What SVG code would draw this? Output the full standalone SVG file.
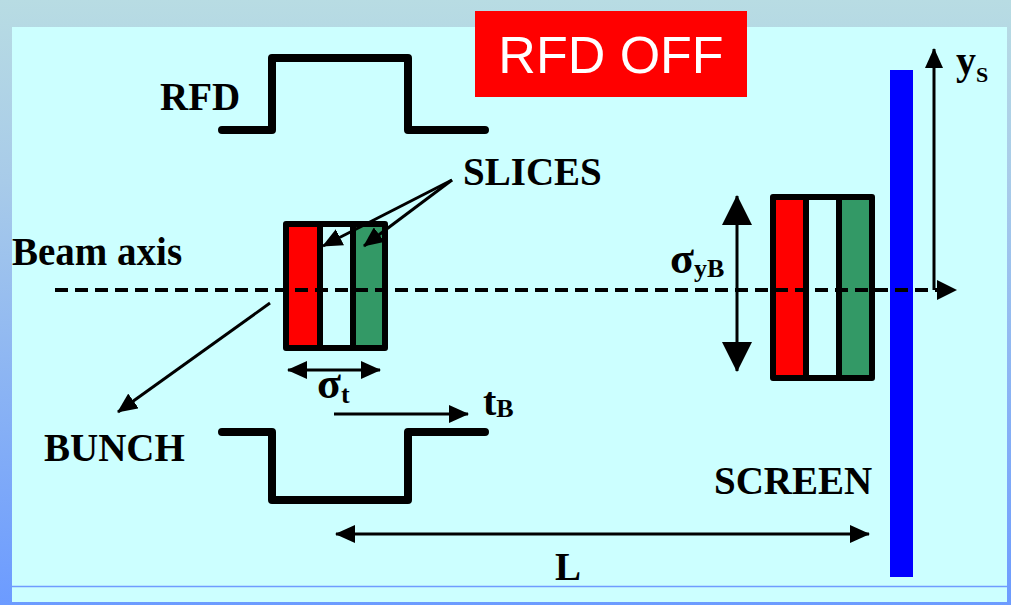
<svg xmlns="http://www.w3.org/2000/svg" width="1011" height="605" viewBox="0 0 1011 605">
<defs>
<linearGradient id="frame" x1="0" y1="0" x2="0" y2="1">
<stop offset="0" stop-color="#b8dce3"/>
<stop offset="0.3" stop-color="#a8cbe9"/>
<stop offset="1" stop-color="#6c9bff"/>
</linearGradient>
<marker id="ah" viewBox="0 0 20 18" refX="19" refY="9" markerWidth="20" markerHeight="18" markerUnits="userSpaceOnUse" orient="auto-start-reverse">
<path d="M0,0 L20,9 L0,18 z" fill="#000"/>
</marker>
<marker id="ahBig" viewBox="0 0 30 30" refX="29" refY="15" markerWidth="30" markerHeight="30" markerUnits="userSpaceOnUse" orient="auto-start-reverse">
<path d="M0,0 L30,15 L0,30 z" fill="#000"/>
</marker>
</defs>
<style>
.lbl{font-family:"Liberation Serif","Times New Roman",serif;font-weight:bold;font-size:39px;fill:#000}
.sub{font-family:"Liberation Serif","Times New Roman",serif;font-weight:bold;fill:#000}
.pulse{fill:none;stroke:#000;stroke-width:8;stroke-linejoin:round;stroke-linecap:round}
.slice{stroke:#000;stroke-width:6;stroke-linejoin:round}
.arr{stroke:#000;stroke-width:3;fill:none}
</style>
<rect x="0" y="0" width="1011" height="605" fill="url(#frame)"/>
<rect x="12" y="27" width="995" height="575" fill="#ccffff"/>
<line x1="12" y1="586.5" x2="1007" y2="586.5" stroke="#6f9cff" stroke-width="1.5"/>

<g id="rfd-off">
<rect x="475" y="11" width="272" height="86" fill="#ff0000"/>
<text x="611" y="73" text-anchor="middle" font-family="Liberation Sans, Arial, sans-serif" font-size="52" fill="#ffffff">RFD OFF</text>
</g>

<g id="rfd-pulse">
<path class="pulse" d="M222,130 H272 V58 H408 V130 H485"/>
<text class="lbl" x="160" y="110">RFD</text>
</g>

<g id="bunch-pulse">
<path class="pulse" d="M222,432 H272 V500 H408 V432 H485"/>
</g>

<g id="screen">
<rect x="890" y="70" width="23" height="507" fill="#0000ff"/>
<text class="lbl" x="714" y="494">SCREEN</text>
</g>

<g id="bunch-left">
<rect class="slice" x="286" y="224" width="34" height="124" fill="#ff0000"/>
<rect class="slice" x="320" y="224" width="33" height="124" fill="#ccffff"/>
<rect class="slice" x="353" y="224" width="32" height="124" fill="#339966"/>
</g>

<g id="bunch-right">
<rect class="slice" x="773" y="197" width="33" height="181" fill="#ff0000"/>
<rect class="slice" x="806" y="197" width="33" height="181" fill="#ccffff"/>
<rect class="slice" x="839" y="197" width="33" height="181" fill="#339966"/>
</g>

<g id="labels">
<text class="lbl" x="12" y="265">Beam axis</text>
<text class="lbl" x="463" y="185">SLICES</text>
<text class="lbl" x="44" y="461">BUNCH</text>
<text class="lbl" x="555" y="580">L</text>
<text class="sub" x="317" y="398" font-size="44">σ<tspan font-size="26" dy="5">t</tspan></text>
<text class="sub" x="483" y="415" font-size="40">t<tspan font-size="26" dy="2">B</tspan></text>
<text class="sub" x="670" y="273" font-size="44">σ<tspan font-size="26" dy="4">yB</tspan></text>
<text class="sub" x="956" y="74" font-size="40">y<tspan font-size="22" dy="8">S</tspan></text>
</g>

<g id="connectors">
<line x1="55" y1="290" x2="940" y2="290" stroke="#000" stroke-width="4" stroke-dasharray="13 7"/>
<path d="M937,280 L957,290 L937,300 z" fill="#000"/>
<line class="arr" x1="934" y1="290" x2="934" y2="49" marker-end="url(#ah)"/>
<line class="arr" x1="270" y1="303" x2="118" y2="412" marker-end="url(#ah)"/>
<line class="arr" x1="452" y1="180" x2="323" y2="246" marker-end="url(#ah)"/>
<line class="arr" x1="452" y1="180" x2="364" y2="246" marker-end="url(#ah)"/>
<line class="arr" x1="288" y1="370" x2="380" y2="370" marker-start="url(#ah)" marker-end="url(#ah)"/>
<line class="arr" x1="334" y1="414" x2="468" y2="414" marker-end="url(#ah)"/>
<line class="arr" x1="336" y1="534" x2="869" y2="534" marker-start="url(#ah)" marker-end="url(#ah)"/>
<line class="arr" x1="737" y1="196" x2="737" y2="371" marker-start="url(#ahBig)" marker-end="url(#ahBig)"/>
</g>
</svg>
